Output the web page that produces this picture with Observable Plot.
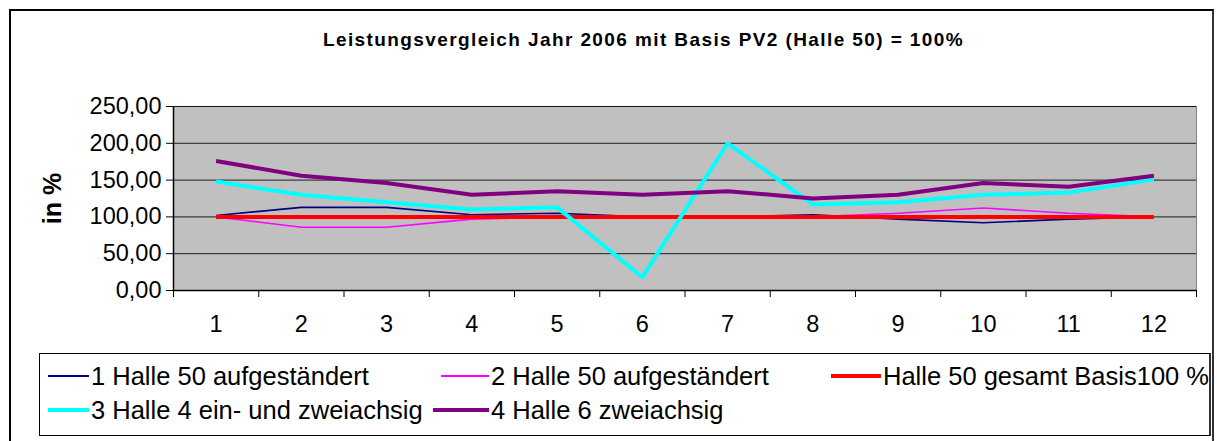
<!DOCTYPE html>
<html>
<head>
<meta charset="utf-8">
<script src="https://cdn.jsdelivr.net/npm/d3@7"></script>
<script src="https://cdn.jsdelivr.net/npm/@observablehq/plot@0.6"></script>
<style>
  html, body { margin: 0; padding: 0; background: #fff; }
  #root { position: relative; width: 1217px; height: 441px; overflow: hidden; font-family: "Liberation Sans", Arial, sans-serif; }
  #outer { position: absolute; left: 9px; top: 9px; width: 1201px; height: 460px; border-left: 2px solid #000; border-top: 2px solid #000; border-right: 2px solid #333; }
  #title { position: absolute; left: 0; width: 1217px; top: 29px; text-align: center; font-weight: bold; font-size: 19px; letter-spacing: 1.4px; padding-left: 70px; box-sizing: border-box; }
  #chart { position: absolute; left: 0; top: 90px; }
  #legend { position: absolute; left: 39px; top: 353px; width: 1172px; height: 83px; border: 1px solid #000; border-right: 2px solid #333; box-sizing: border-box; font-size: 25.5px; }
  .sw { position: absolute; }
  .lt { position: absolute; white-space: nowrap; line-height: 30px; }
</style>
</head>
<body>
<div id="root">
  <div id="outer"></div>
  <div id="title"></div>
  <div id="chart"></div>
  <div id="legend"></div>
</div>
<script>
const titleText = "Leistungsvergleich Jahr 2006 mit Basis PV2 (Halle 50) = 100%";
const yLabel = "in %";
const months = [1, 2, 3, 4, 5, 6, 7, 8, 9, 10, 11, 12];
const yTicks = [0, 50, 100, 150, 200, 250];

const seriesNames = [
  "1 Halle 50 aufgeständert",
  "2 Halle 50 aufgeständert",
  "Halle 50 gesamt Basis100 %",
  "3 Halle 4 ein- und zweiachsig",
  "4 Halle 6 zweiachsig"
];
const seriesColors = ["#000080", "#FF00FF", "#FF0000", "#00FFFF", "#800080"];
const seriesWidths = [1.6, 1.6, 4, 4, 4];

const halle50a = [102, 113, 113, 103, 105, 100, 100, 103, 97, 92, 97, 100];
const halle50b = [100, 86, 86, 97, 100, 100, 100, 100, 105, 112, 105, 100];
const basis = [100, 100, 100, 100, 100, 100, 100, 100, 100, 100, 100, 100];
const halle4 = [148, 130, 120, 110, 113, 18, 200, 117, 120, 130, 133, 151];
const halle6 = [176, 156, 146, 130, 135, 130, 135, 125, 130, 146, 141, 156];

const seriesValues = [halle50a, halle50b, basis, halle4, halle6];

document.getElementById("title").textContent = titleText;

const boundaries = [months[0] - 0.5, ...months.map(m => m + 0.5)];
const fmt = d => d.toFixed(2).replace(".", ",");

const lineMarks = seriesValues.map((vals, i) =>
  Plot.line(months.map((m, j) => ({month: m, value: vals[j]})), {
    x: "month", y: "value", stroke: seriesColors[i], strokeWidth: seriesWidths[i],
    strokeLinejoin: "miter", strokeLinecap: "butt"
  })
);

const chart = Plot.plot({
  width: 1217,
  height: 260,
  marginLeft: 173,
  marginRight: 21,
  marginTop: 16,
  marginBottom: 60,
  style: {fontFamily: "'Liberation Sans', Arial, sans-serif", color: "#000", background: "transparent"},
  x: {domain: [boundaries[0], boundaries[boundaries.length - 1]]},
  y: {domain: [yTicks[0], yTicks[yTicks.length - 1]]},
  marks: [
    Plot.frame({fill: "#C0C0C0", stroke: "#808080", strokeWidth: 1}),
    Plot.gridY(yTicks, {stroke: "#000", strokeOpacity: 0.85, strokeWidth: 1}),
    Plot.axisY(yTicks, {tickFormat: fmt, tickSize: 7, tickPadding: 5, fontSize: 23.5, label: null, stroke: "#000"}),
    Plot.axisX(boundaries, {tickFormat: () => "", tickSize: 7, label: null, stroke: "#000"}),
    Plot.axisX(months, {tickSize: 0, tickPadding: 25, fontSize: 23.5, label: null, tickFormat: d => String(d)}),
    Plot.ruleY([yTicks[0]], {stroke: "#000", strokeWidth: 1.5}),
    Plot.ruleX([boundaries[0]], {stroke: "#000", strokeWidth: 1.5}),
    ...lineMarks,
    Plot.text([yLabel], {frameAnchor: "left", dx: -121, rotate: -90, textAnchor: "middle", fontWeight: "bold", fontSize: 25, fill: "#000"})
  ]
});
document.getElementById("chart").appendChild(chart);

// legend layout (relative to legend box)
const legendPos = [
  {sw: 8, w: 41, text: 51, row: 22},
  {sw: 401, w: 48, text: 451, row: 22},
  {sw: 791, w: 50, text: 843, row: 22},
  {sw: 8, w: 41, text: 51, row: 56},
  {sw: 393, w: 56, text: 451, row: 56}
];
const legend = document.getElementById("legend");
seriesNames.forEach((name, i) => {
  const p = legendPos[i];
  const h = Math.max(2, seriesWidths[i]);
  const sw = document.createElement("div");
  sw.className = "sw";
  sw.style.left = p.sw + "px";
  sw.style.width = p.w + "px";
  sw.style.height = h + "px";
  sw.style.top = (p.row - h / 2) + "px";
  sw.style.background = seriesColors[i];
  legend.appendChild(sw);
  const t = document.createElement("div");
  t.className = "lt";
  t.style.left = p.text + "px";
  t.style.top = (p.row - 15) + "px";
  t.textContent = name;
  legend.appendChild(t);
});
</script>
</body>
</html>
